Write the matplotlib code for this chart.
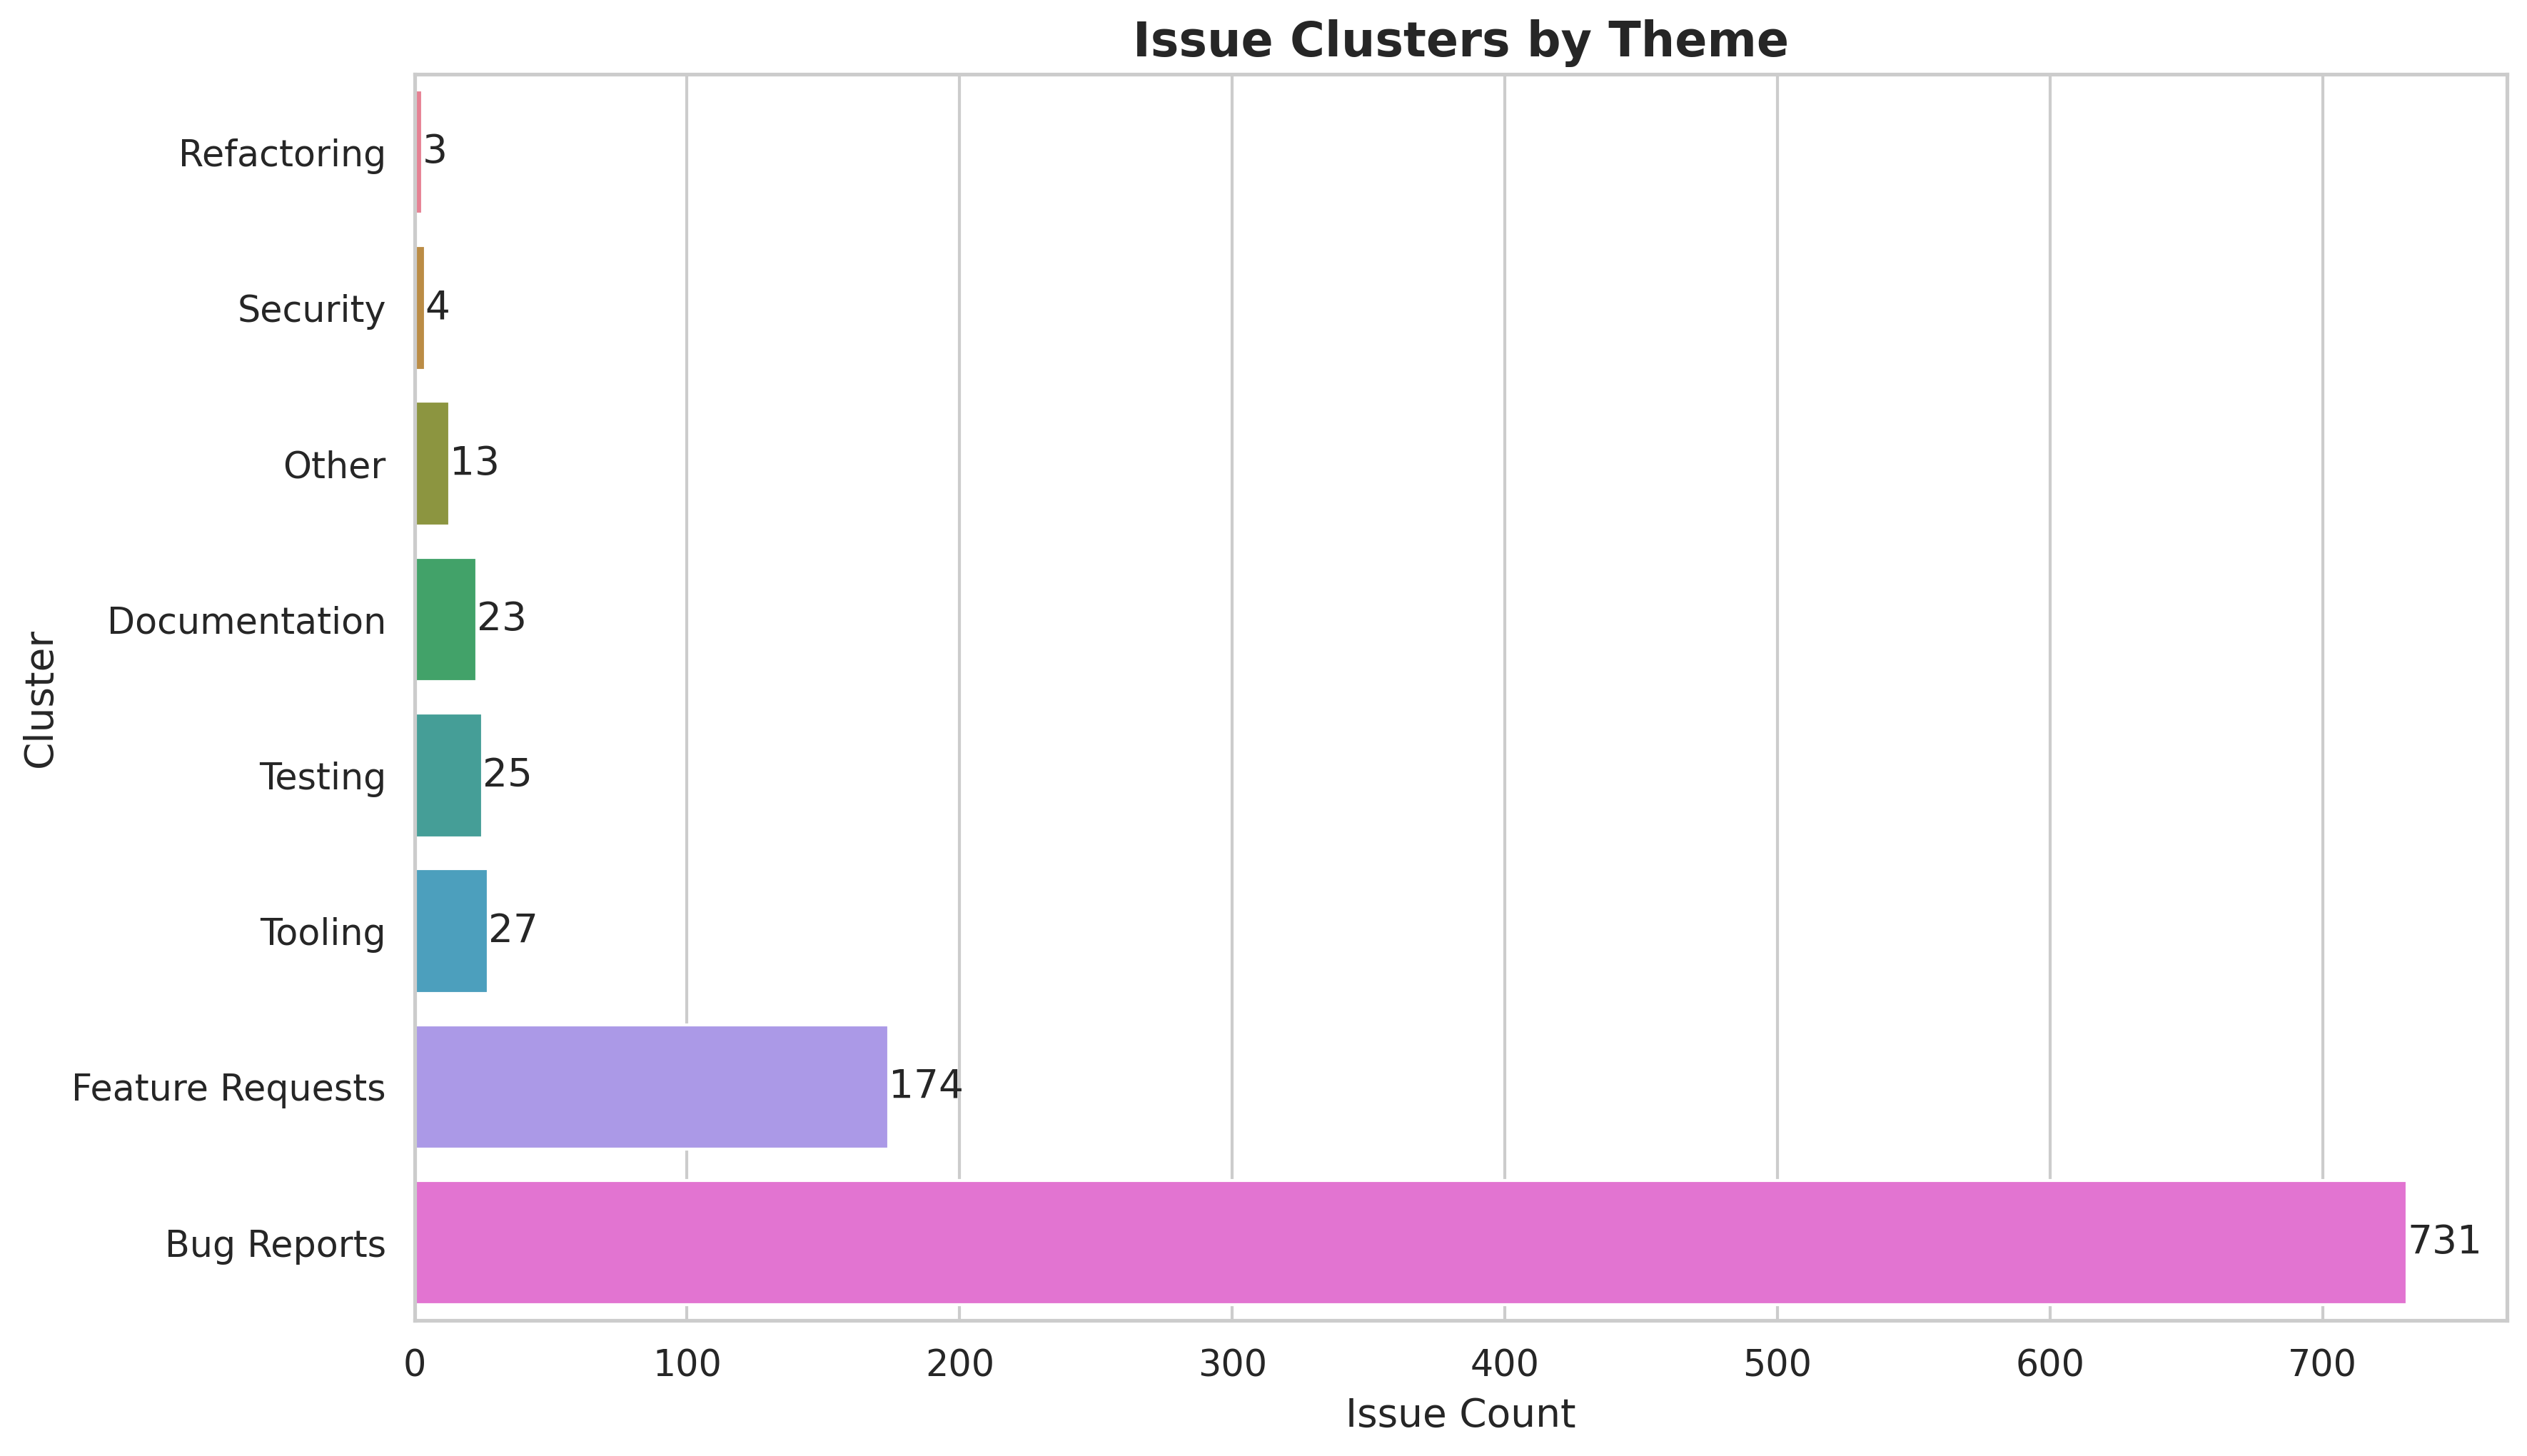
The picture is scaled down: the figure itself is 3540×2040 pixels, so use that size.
import matplotlib
matplotlib.use("Agg")
import matplotlib.pyplot as plt
import seaborn as sns
import pandas as pd

# cluster counts
clusters = ["Refactoring", "Security", "Other", "Documentation", "Testing",
            "Tooling", "Feature Requests", "Bug Reports"]
counts = [3, 4, 13, 23, 25, 27, 174, 731]

df = pd.DataFrame({"Cluster": clusters, "Issue Count": counts})

sns.set_theme(style="whitegrid")
plt.rcParams['font.family'] = ['DejaVu Sans']

fig, ax = plt.subplots(figsize=(11.8, 6.8))
sns.barplot(data=df, x="Issue Count", y="Cluster", hue="Cluster",
            palette="husl", legend=False, ax=ax)
for c in ax.containers:
    ax.bar_label(c, fontsize=13.2)

ax.set_title("Issue Clusters by Theme", fontsize=16, fontweight="bold")
ax.set_xlabel("Issue Count", fontsize=13.2)
ax.set_ylabel("Cluster", fontsize=13.2)
ax.tick_params(labelsize=12.2)
fig.subplots_adjust(left=0.164, right=0.992, top=0.949, bottom=0.093)
plt.savefig("out.png", dpi=300)
